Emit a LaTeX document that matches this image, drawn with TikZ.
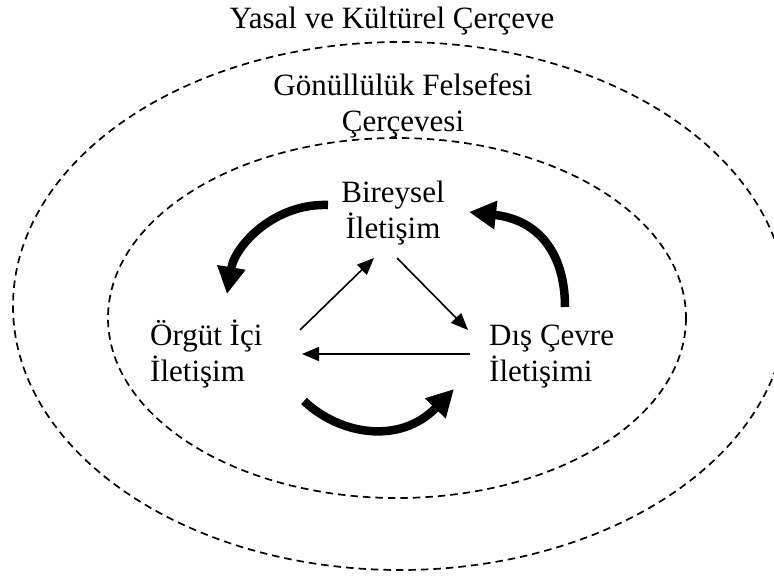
\documentclass[tikz,border=0pt]{standalone}
\usepackage{fontspec}
\setmainfont{Liberation Serif}
\usetikzlibrary{arrows.meta}
\begin{document}
\begin{tikzpicture}[x=1pt,y=-1pt,
  lbl/.style={font=\fontsize{31}{36}\selectfont, inner sep=0pt},
  frame/.style={draw, line width=1.7pt, dash pattern=on 7.5pt off 5pt},
  flow/.style={line width=1.6pt, -{Triangle[length=17pt,width=14pt]}},
  turn/.style={line width=8.5pt, -{Triangle[length=27pt,width=27pt]}}]
\useasboundingbox (0,0) rectangle (774,576);

% nested frames
\begin{scope}
  \clip (0,0) rectangle (774,576);
  \draw[frame] (400,306) ellipse [x radius=387, y radius=264];
\end{scope}
\draw[frame] (397,318) ellipse [x radius=289, y radius=180];

% labels (base anchor of a two-line label sits on its last line)
\node[lbl, anchor=base] (yasal) at (392,28) {Yasal ve Kültürel Çerçeve};
\node[lbl, anchor=base, align=center] (gonul) at (403,131) {Gönüllülük Felsefesi\\Çerçevesi};
\node[lbl, anchor=base, align=center] (birey) at (393,238) {Bireysel\\İletişim};
\node[lbl, anchor=base west, align=left] (orgut) at (150,381) {Örgüt İçi\\İletişim};
\node[lbl, anchor=base west, align=left] (dis) at (489,381) {Dış Çevre\\İletişimi};

% end points of the thin flows
\coordinate (o2b-s) at (300,330);
\coordinate (o2b-e) at (374,258);
\coordinate (b2d-s) at (397,258);
\coordinate (b2d-e) at (468,330);
\coordinate (d2o-s) at (470,354);
\coordinate (d2o-e) at (302,354);

\draw[flow] (o2b-s) -- (o2b-e);
\draw[flow] (b2d-s) -- (b2d-e);
\draw[flow] (d2o-s) -- (d2o-e);

% end points of the thick cycle arrows
\coordinate (tl-s) at (328,205);
\coordinate (tl-e) at (227,294);
\coordinate (tr-s) at (565,307);
\coordinate (tr-e) at (469,212);
\coordinate (bt-s) at (304,401);
\coordinate (bt-e) at (454,389);

\draw[turn] (tl-s) .. controls (275,203) and (235,245) .. (tl-e);
\draw[turn] (tr-s) .. controls (565,255) and (540,220) .. (tr-e);
\draw[turn] (bt-s) .. controls (340,435) and (400,445) .. (bt-e);
\end{tikzpicture}
\end{document}
